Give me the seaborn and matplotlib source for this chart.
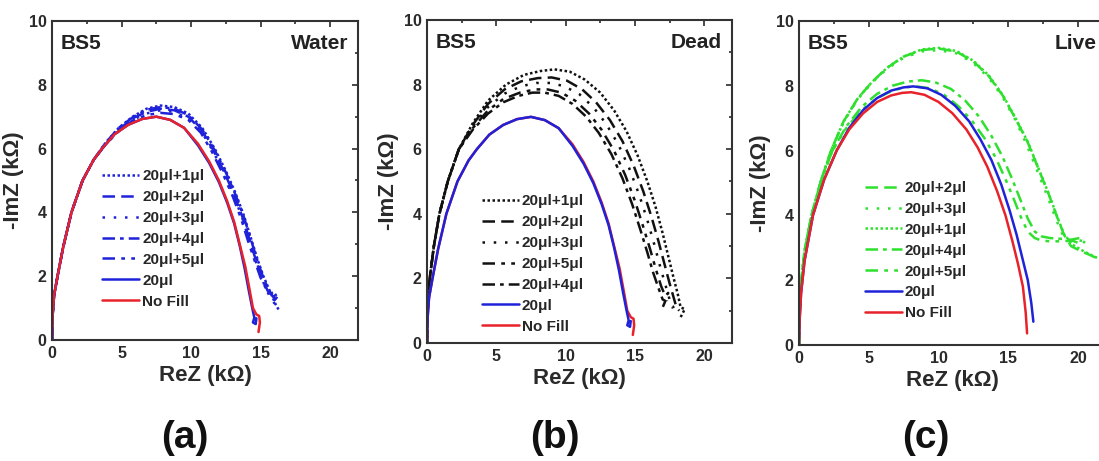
import seaborn as sns
import matplotlib
matplotlib.use("Agg")
import matplotlib.pyplot as plt
from matplotlib.ticker import MultipleLocator

# shared curves for panels (a) and (b): no fill and 20ul (kOhm)
nofill_ab_x = [0, 0.05, 0.15, 0.4, 0.8, 1.4, 2.2, 3.0, 3.6, 4.5, 5.5, 6.5, 7.5, 8.5, 9.5,
               10.5, 11.3, 12.0, 12.6, 13.1, 13.5, 13.9, 14.2, 14.45, 14.7, 14.9, 14.95, 14.85]
nofill_ab_y = [0, 0.8, 1.4, 2.0, 2.9, 4.0, 5.0, 5.65, 6.0, 6.45, 6.75, 6.93, 7.0, 6.9, 6.65,
               6.15, 5.6, 5.0, 4.35, 3.7, 3.0, 2.3, 1.6, 1.0, 0.8, 0.75, 0.55, 0.25]
f20_ab_x = [0, 0.05, 0.15, 0.4, 0.8, 1.4, 2.2, 3.0, 3.6, 4.5, 5.5, 6.5, 7.5, 8.5, 9.5,
            10.5, 11.3, 12.0, 12.6, 13.1, 13.5, 13.85, 14.15, 14.4, 14.55, 14.45, 14.65, 14.7]
f20_ab_y = [0, 0.8, 1.4, 2.0, 2.9, 4.0, 5.0, 5.65, 6.0, 6.45, 6.75, 6.93, 7.0, 6.9, 6.65,
            6.1, 5.55, 4.95, 4.3, 3.65, 2.95, 2.25, 1.55, 1.0, 0.7, 0.55, 0.5, 0.68]

# (a) water
water_p1_x = [0, 0.05, 0.15, 0.4, 0.8, 1.4, 2.2, 3.0, 3.8, 4.8, 5.8, 6.8, 7.8, 8.8, 9.8, 10.8,
              11.7, 12.5, 13.2, 13.8, 14.3, 14.8, 15.2, 15.6, 15.9, 16.1, 16.3]
water_p1_y = [0, 0.8, 1.4, 2.0, 2.9, 4.0, 5.0, 5.65, 6.15, 6.65, 7.0, 7.25, 7.35, 7.3, 7.1, 6.65,
              6.0, 5.3, 4.6, 3.9, 3.2, 2.5, 2.0, 1.6, 1.3, 1.1, 0.95]
water_p2_x = [0, 0.05, 0.15, 0.4, 0.8, 1.4, 2.2, 3.0, 3.8, 4.8, 5.8, 6.8, 7.8, 8.8, 9.8, 10.8,
              11.6, 12.4, 13.1, 13.7, 14.2, 14.7, 15.1, 15.5, 15.8, 16.0, 16.2]
water_p2_y = [0, 0.8, 1.4, 2.0, 2.9, 4.0, 5.0, 5.65, 6.1, 6.6, 6.95, 7.15, 7.25, 7.2, 7.0, 6.55,
              5.95, 5.25, 4.55, 3.85, 3.15, 2.45, 1.95, 1.55, 1.35, 1.25, 1.35]
water_p3_x = [0, 0.05, 0.15, 0.4, 0.8, 1.4, 2.2, 3.0, 3.8, 4.8, 5.8, 6.8, 7.8, 8.8, 9.8, 10.8,
              11.6, 12.4, 13.1, 13.7, 14.2, 14.7, 15.1, 15.5, 15.8, 16.0, 16.1]
water_p3_y = [0, 0.8, 1.4, 2.0, 2.9, 4.0, 5.0, 5.65, 6.1, 6.6, 6.9, 7.1, 7.2, 7.15, 6.95, 6.5,
              5.9, 5.2, 4.5, 3.8, 3.1, 2.4, 1.9, 1.5, 1.25, 1.15, 1.2]
water_p4_x = [0, 0.05, 0.15, 0.4, 0.8, 1.4, 2.2, 3.0, 3.8, 4.8, 5.8, 6.8, 7.8, 8.8, 9.8, 10.8,
              11.7, 12.5, 13.2, 13.8, 14.3, 14.8, 15.2, 15.6, 15.9, 16.2, 16.0]
water_p4_y = [0, 0.8, 1.4, 2.0, 2.9, 4.0, 5.0, 5.65, 6.15, 6.65, 6.98, 7.22, 7.3, 7.25, 7.05, 6.6,
              5.95, 5.25, 4.55, 3.85, 3.15, 2.45, 1.95, 1.55, 1.35, 1.45, 1.25]
water_p5_x = [0, 0.05, 0.15, 0.4, 0.8, 1.4, 2.2, 3.0, 3.8, 4.8, 5.8, 6.8, 7.8, 8.8, 9.8, 10.7,
              11.5, 12.3, 13.0, 13.6, 14.1, 14.6, 15.0, 15.4, 15.7, 15.9, 16.1]
water_p5_y = [0, 0.8, 1.4, 2.0, 2.9, 4.0, 5.0, 5.65, 6.1, 6.55, 6.88, 7.05, 7.12, 7.08, 6.9, 6.5,
              5.9, 5.2, 4.5, 3.8, 3.1, 2.45, 1.95, 1.6, 1.45, 1.5, 1.3]

# (b) dead
dead_p1_x = [0, 0.05, 0.2, 0.5, 0.9, 1.5, 2.3, 3.3, 4.4, 5.7, 7.0, 8.2, 9.2, 10.3, 11.4, 12.5,
             13.5, 14.4, 15.2, 15.9, 16.5, 17.0, 17.4, 17.8, 18.1, 18.3, 18.6, 18.3]
dead_p1_y = [0, 1.0, 2.0, 3.0, 4.0, 5.0, 6.0, 6.8, 7.5, 8.0, 8.3, 8.42, 8.47, 8.4, 8.15, 7.75,
             7.2, 6.55, 5.8, 5.0, 4.2, 3.4, 2.7, 2.0, 1.5, 1.1, 1.05, 0.8]
dead_p2_x = [0, 0.05, 0.2, 0.5, 0.9, 1.5, 2.3, 3.3, 4.4, 5.6, 6.8, 8.0, 9.0, 10.1, 11.2, 12.2,
             13.2, 14.1, 14.9, 15.6, 16.2, 16.7, 17.1, 17.5, 17.8, 18.0, 18.2]
dead_p2_y = [0, 1.0, 2.0, 3.0, 4.0, 5.0, 6.0, 6.75, 7.4, 7.85, 8.1, 8.2, 8.22, 8.12, 7.85, 7.45,
             6.9, 6.25, 5.5, 4.7, 3.9, 3.15, 2.5, 1.85, 1.4, 1.1, 1.0]
dead_p3_x = [0, 0.05, 0.2, 0.5, 0.9, 1.5, 2.3, 3.3, 4.4, 5.6, 6.8, 7.9, 8.9, 9.9, 11.0, 12.0,
             12.9, 13.8, 14.6, 15.3, 15.9, 16.4, 16.8, 17.2, 17.5, 17.7, 17.9]
dead_p3_y = [0, 1.0, 2.0, 3.0, 4.0, 5.0, 6.0, 6.7, 7.3, 7.72, 7.95, 8.05, 8.05, 7.95, 7.7, 7.3,
             6.8, 6.15, 5.4, 4.6, 3.8, 3.05, 2.4, 1.8, 1.35, 1.1, 1.15]
dead_p5_x = [0, 0.05, 0.2, 0.5, 0.9, 1.5, 2.3, 3.3, 4.4, 5.5, 6.7, 7.8, 8.7, 9.7, 10.7, 11.7,
             12.6, 13.5, 14.3, 15.0, 15.6, 16.1, 16.5, 16.9, 17.2, 17.4, 17.3]
dead_p5_y = [0, 1.0, 2.0, 3.0, 4.0, 5.0, 6.0, 6.65, 7.2, 7.55, 7.75, 7.85, 7.85, 7.75, 7.5, 7.1,
             6.6, 5.95, 5.2, 4.4, 3.6, 2.9, 2.3, 1.75, 1.45, 1.55, 1.3]
dead_p4_x = [0, 0.05, 0.2, 0.5, 0.9, 1.5, 2.3, 3.3, 4.4, 5.5, 6.6, 7.6, 8.5, 9.5, 10.5, 11.5,
             12.4, 13.3, 14.1, 14.8, 15.4, 15.9, 16.3, 16.7, 17.0, 17.2, 17.0]
dead_p4_y = [0, 1.0, 2.0, 3.0, 4.0, 5.0, 6.0, 6.6, 7.1, 7.45, 7.65, 7.75, 7.75, 7.65, 7.4, 7.0,
             6.5, 5.85, 5.1, 4.3, 3.5, 2.8, 2.2, 1.7, 1.35, 1.3, 1.1]

# (c) live
live_nofill_x = [0, 0.05, 0.15, 0.4, 1.0, 1.8, 2.7, 3.6, 4.6, 5.6, 6.6, 7.4, 8.05, 9.0, 10.0,
                 11.0, 12.0, 12.8, 13.5, 14.2, 14.8, 15.3, 15.7, 16.05, 16.25, 16.35]
live_nofill_y = [0, 0.8, 1.6, 2.6, 4.0, 5.1, 6.0, 6.65, 7.15, 7.5, 7.7, 7.78, 7.8, 7.72, 7.5,
                 7.15, 6.65, 6.1, 5.5, 4.75, 4.0, 3.2, 2.5, 1.8, 1.0, 0.36]
live_f20_x = [0, 0.05, 0.15, 0.4, 1.0, 1.8, 2.7, 3.6, 4.6, 5.6, 6.6, 7.5, 8.2, 9.2, 10.2,
              11.2, 12.2, 13.0, 13.8, 14.5, 15.1, 15.6, 16.0, 16.4, 16.65, 16.8]
live_f20_y = [0, 0.8, 1.6, 2.6, 4.0, 5.1, 6.0, 6.7, 7.25, 7.62, 7.85, 7.95, 7.98, 7.92, 7.72,
              7.38, 6.9, 6.35, 5.7, 4.95, 4.15, 3.4, 2.7, 2.0, 1.3, 0.72]
live_p2_x = [0, 0.05, 0.15, 0.4, 0.9, 1.6, 2.3, 3.2, 4.2, 5.2, 6.3, 7.5, 8.8, 10.0, 11.3, 12.5,
             13.6, 14.6, 15.5, 16.4, 17.2, 17.9, 18.5, 19.0, 19.5, 20.2, 21.0, 22.0]
live_p2_y = [0, 1.0, 1.9, 2.9, 4.0, 5.1, 6.0, 6.9, 7.6, 8.1, 8.55, 8.9, 9.1, 9.15, 9.05, 8.75,
             8.3, 7.7, 7.0, 6.25, 5.4, 4.65, 3.95, 3.4, 3.05, 2.9, 2.75, 2.55]
live_p3_x = [0, 0.05, 0.15, 0.4, 0.9, 1.6, 2.3, 3.2, 4.2, 5.2, 6.3, 7.5, 8.8, 10.0, 11.3, 12.5,
             13.6, 14.6, 15.5, 16.3, 17.1, 17.8, 18.4, 18.9, 19.4, 19.9, 20.4]
live_p3_y = [0, 1.0, 1.9, 2.9, 4.0, 5.1, 6.0, 6.88, 7.58, 8.08, 8.52, 8.86, 9.06, 9.1, 9.0, 8.7,
             8.25, 7.65, 6.95, 6.2, 5.35, 4.6, 3.9, 3.4, 3.2, 3.25, 3.2]
live_p1_x = [0, 0.05, 0.15, 0.4, 0.9, 1.6, 2.3, 3.2, 4.2, 5.2, 6.3, 7.5, 8.8, 10.0, 11.3, 12.5,
             13.6, 14.6, 15.5, 16.4, 17.2, 17.9, 18.5, 19.0, 19.6, 20.3, 21.2, 22.0]
live_p1_y = [0, 1.0, 1.9, 2.9, 4.0, 5.1, 6.0, 6.9, 7.6, 8.1, 8.55, 8.9, 9.12, 9.17, 9.07, 8.77,
             8.32, 7.72, 7.02, 6.27, 5.42, 4.67, 3.97, 3.42, 3.1, 2.92, 2.72, 2.6]
live_p4_x = [0, 0.05, 0.15, 0.4, 0.9, 1.6, 2.4, 3.4, 4.5, 5.6, 6.7, 7.8, 8.8, 9.8, 10.9, 11.9,
             12.9, 13.8, 14.6, 15.3, 15.9, 16.4, 16.9, 17.4, 18.0, 18.7, 19.5, 20.1, 20.5]
live_p4_y = [0, 1.0, 1.9, 2.9, 4.0, 5.1, 6.0, 6.75, 7.35, 7.75, 8.0, 8.13, 8.17, 8.1, 7.9, 7.55,
             7.05, 6.45, 5.8, 5.1, 4.45, 3.9, 3.5, 3.35, 3.3, 3.28, 3.25, 3.3, 3.15]
live_p5_x = [0, 0.05, 0.15, 0.4, 0.9, 1.6, 2.4, 3.4, 4.5, 5.6, 6.7, 7.6, 8.4, 9.4, 10.4, 11.4,
             12.4, 13.3, 14.1, 14.8, 15.4, 15.9, 16.4, 16.9, 17.4, 18.0, 18.8, 19.6, 20.3]
live_p5_y = [0, 1.0, 1.9, 2.9, 4.0, 5.1, 6.0, 6.7, 7.25, 7.62, 7.85, 7.95, 7.98, 7.92, 7.72, 7.38,
             6.92, 6.38, 5.78, 5.12, 4.5, 3.95, 3.5, 3.3, 3.22, 3.2, 3.2, 3.22, 3.1]

# line styles
DOT = (0, (1, 1))
DASH = (0, (5, 2.5))
SPARSE = (0, (1, 3.5))
DASHDOT = (0, (5, 2, 1.5, 2))
DASHDOTDOT = (0, (5, 2.5, 1.5, 2.5, 1.5, 2.5))

BLUE = "#1f22d8"
RED = "#e8222a"
GREEN = "#2fe02f"
BLACK = "#111111"

sns.set_style("white")
plt.rcParams['font.family'] = ['Liberation Sans', 'DejaVu Sans']
plt.rcParams['font.weight'] = 'bold'

fig = plt.figure(figsize=(10.99, 4.61), dpi=100)
ax_a = fig.add_axes([0.0473, 0.2625, 0.2784, 0.692])
ax_b = fig.add_axes([0.3885, 0.256, 0.2775, 0.7007])
ax_c = fig.add_axes([0.727, 0.2516, 0.2793, 0.703])


def curve(ax, x, y, color, ls, label, lw=1.8):
    sns.lineplot(x=x, y=y, ax=ax, sort=False, estimator=None, color=color,
                 linestyle=ls, linewidth=lw, label=label, legend=False)


panels = [
    (ax_a, "Water", [
        (water_p1_x, water_p1_y, BLUE, DOT, "20\u03bcl+1\u03bcl"),
        (water_p2_x, water_p2_y, BLUE, DASH, "20\u03bcl+2\u03bcl"),
        (water_p3_x, water_p3_y, BLUE, SPARSE, "20\u03bcl+3\u03bcl"),
        (water_p4_x, water_p4_y, BLUE, DASHDOT, "20\u03bcl+4\u03bcl"),
        (water_p5_x, water_p5_y, BLUE, DASHDOTDOT, "20\u03bcl+5\u03bcl"),
        (f20_ab_x, f20_ab_y, BLUE, "-", "20\u03bcl"),
        (nofill_ab_x, nofill_ab_y, RED, "-", "No Fill"),
    ], (0.165, 0.535)),
    (ax_b, "Dead", [
        (dead_p1_x, dead_p1_y, BLACK, DOT, "20\u03bcl+1\u03bcl"),
        (dead_p2_x, dead_p2_y, BLACK, DASH, "20\u03bcl+2\u03bcl"),
        (dead_p3_x, dead_p3_y, BLACK, SPARSE, "20\u03bcl+3\u03bcl"),
        (dead_p5_x, dead_p5_y, BLACK, DASHDOTDOT, "20\u03bcl+5\u03bcl"),
        (dead_p4_x, dead_p4_y, BLACK, DASHDOT, "20\u03bcl+4\u03bcl"),
        (nofill_ab_x, nofill_ab_y, RED, "-", "No Fill"),
        (f20_ab_x, f20_ab_y, BLUE, "-", "20\u03bcl"),
    ], (0.18, 0.46)),
    (ax_c, "Live", [
        (live_p2_x, live_p2_y, GREEN, DASH, "20\u03bcl+2\u03bcl"),
        (live_p3_x, live_p3_y, GREEN, SPARSE, "20\u03bcl+3\u03bcl"),
        (live_p1_x, live_p1_y, GREEN, DOT, "20\u03bcl+1\u03bcl"),
        (live_p4_x, live_p4_y, GREEN, DASHDOT, "20\u03bcl+4\u03bcl"),
        (live_p5_x, live_p5_y, GREEN, DASHDOTDOT, "20\u03bcl+5\u03bcl"),
        (live_f20_x, live_f20_y, BLUE, "-", "20\u03bcl"),
        (live_nofill_x, live_nofill_y, RED, "-", "No Fill"),
    ], (0.215, 0.506)),
]

for ax, name, series, leg_pos in panels:
    for x, y, c, ls, lab in series:
        curve(ax, x, y, c, ls, lab)
    ax.set_xlim(0, 22)
    ax.set_ylim(0, 10)
    ax.xaxis.set_major_locator(MultipleLocator(5))
    ax.xaxis.set_minor_locator(MultipleLocator(2.5))
    ax.yaxis.set_major_locator(MultipleLocator(2))
    ax.yaxis.set_minor_locator(MultipleLocator(1))
    ax.tick_params(which="both", direction="in", top=True, right=True,
                   labelsize=11.5, colors="#2a2a2a", width=1.2)
    ax.tick_params(which="major", length=4.5, pad=4)
    ax.tick_params(which="minor", length=2.5)
    for lbl in ax.get_xticklabels() + ax.get_yticklabels():
        lbl.set_fontweight("bold")
    for sp in ax.spines.values():
        sp.set_linewidth(1.5)
        sp.set_color("#333333")
    ax.set_xlabel("ReZ (k\u03a9)", fontsize=16, fontweight="bold", labelpad=3, color="#2a2a2a")
    ax.set_ylabel("-ImZ (k\u03a9)", fontsize=16, fontweight="bold", labelpad=3, color="#2a2a2a")
    ax.text(0.6, 9.3, "BS5", fontsize=15, fontweight="bold", va="center", color="#222222")
    ax.text(21.3, 9.3, name, fontsize=15, fontweight="bold", va="center", ha="right",
            color="#222222")
    handles, labels = ax.get_legend_handles_labels()
    if name == "Dead":
        # panel (b): +5 before +4 as in the figure, then 20ul, No Fill
        order = [0, 1, 2, 3, 4, 6, 5]
    else:
        order = list(range(len(labels)))
    ax.legend([handles[i] for i in order], [labels[i] for i in order],
              loc="upper left", bbox_to_anchor=leg_pos, frameon=False,
              handlelength=2.4, handletextpad=0.2, labelspacing=0.45, borderaxespad=0,
              borderpad=0, prop={"size": 11, "weight": "bold"})

fig.text(0.168, 0.05, "(a)", fontsize=28, ha="center", va="center", color="#111111")
fig.text(0.505, 0.05, "(b)", fontsize=28, ha="center", va="center", color="#111111")
fig.text(0.842, 0.05, "(c)", fontsize=28, ha="center", va="center", color="#111111")

fig.savefig("out.png", dpi=100)
